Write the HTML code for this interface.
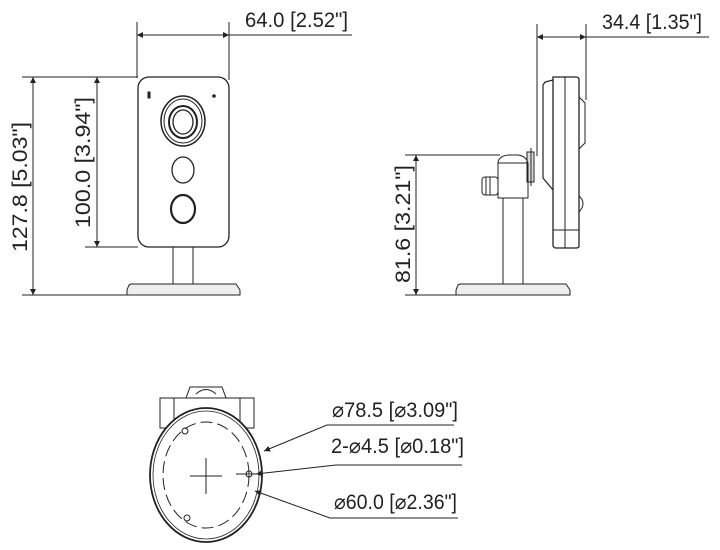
<!DOCTYPE html>
<html><head><meta charset="utf-8"><style>html,body{margin:0;padding:0;background:#fff}svg{display:block}text{font-family:"Liberation Sans",sans-serif;font-size:21px;fill:#222;stroke:none}</style></head><body>
<svg width="720" height="550" viewBox="0 0 720 550" xmlns="http://www.w3.org/2000/svg" fill="none" stroke="#222" stroke-width="1">
<defs>
<marker id="a" viewBox="0 0 10 10" refX="10" refY="5" markerWidth="9" markerHeight="6" orient="auto-start-reverse" markerUnits="userSpaceOnUse"><path d="M0,0L10,5L0,10z" fill="#222" stroke="none"/></marker>
</defs>
<line x1="137" y1="22" x2="137" y2="78"/><line x1="229" y1="22" x2="229" y2="80"/>
<line x1="137" y1="35" x2="229" y2="35" marker-start="url(#a)" marker-end="url(#a)"/>
<line x1="229" y1="35" x2="352" y2="35"/>
<text x="245" y="27" textLength="103" lengthAdjust="spacingAndGlyphs">64.0 [2.52"]</text>
<line x1="22" y1="77" x2="138" y2="77"/><line x1="22" y1="295" x2="240" y2="295"/>
<line x1="33" y1="77" x2="33" y2="295" marker-start="url(#a)" marker-end="url(#a)"/>
<line x1="85" y1="247" x2="138" y2="247"/>
<line x1="97" y1="77" x2="97" y2="247" marker-start="url(#a)" marker-end="url(#a)"/>
<text transform="translate(27,252) rotate(-90)" textLength="130" lengthAdjust="spacingAndGlyphs">127.8 [5.03"]</text>
<text transform="translate(90,228) rotate(-90)" textLength="131" lengthAdjust="spacingAndGlyphs">100.0 [3.94"]</text>
<rect x="138" y="77" width="91" height="170" rx="11" stroke-width="1.3"/>
<rect x="148" y="92" width="2" height="6" fill="#222"/><circle cx="214" cy="96" r="1.3" fill="#222"/>
<ellipse cx="183" cy="121" rx="22" ry="25" stroke-width="1.5"/>
<ellipse cx="183" cy="121" rx="19" ry="22"/>
<ellipse cx="183" cy="122" rx="14" ry="16" stroke-width="2"/>
<ellipse cx="183" cy="122" rx="10" ry="12" stroke-width="1.3"/>
<ellipse cx="183" cy="170" rx="11" ry="13" stroke-width="1.3"/>
<ellipse cx="183" cy="209" rx="12" ry="14" stroke-width="2.2"/>
<line x1="173" y1="247" x2="173" y2="284"/><line x1="193" y1="247" x2="193" y2="284"/>
<path d="M129,285 L131,284 L236,284 L240,290 L240,295 L127,295 L127,290 Z" fill="#eee"/>
<line x1="537" y1="24" x2="537" y2="156"/><line x1="586" y1="24" x2="586" y2="100"/>
<line x1="537" y1="37" x2="586" y2="37" marker-start="url(#a)" marker-end="url(#a)"/>
<line x1="586" y1="37" x2="709" y2="37"/>
<text x="602" y="29" textLength="100" lengthAdjust="spacingAndGlyphs">34.4 [1.35"]</text>
<line x1="405" y1="155" x2="500" y2="155"/><line x1="405" y1="295" x2="460" y2="295"/>
<line x1="416" y1="155" x2="416" y2="295" marker-start="url(#a)" marker-end="url(#a)"/>
<text transform="translate(410,283) rotate(-90)" textLength="118" lengthAdjust="spacingAndGlyphs">81.6 [3.21"]</text>
<path d="M553,77 L576,77 Q579,77 579,80 L579,246 Q579,248 576,248 L556,248 Q553,248 553,245 Z" stroke-width="1.3"/>
<line x1="565" y1="77" x2="565" y2="248"/>
<line x1="553" y1="230" x2="579" y2="230"/>
<path d="M553,80 L545,82 L543,85 L543,178 L553,190" stroke-width="1.2"/>
<path d="M579,97 L585,103 L585,143 L579,149"/>
<path d="M579,196 Q587,203 579,212"/>
<rect x="527" y="152" width="7" height="30" fill="#ddd"/>
<line x1="531" y1="148" x2="531" y2="186"/>
<path d="M498,198 L498,162 Q500,155 510,155 L518,155 Q526,156 528,163 L528,198 Z"/>
<line x1="498" y1="163" x2="528" y2="163"/>
<rect x="482" y="177" width="16" height="18" rx="3"/>
<line x1="486" y1="177" x2="486" y2="195"/><line x1="490" y1="177" x2="490" y2="195"/>
<line x1="503" y1="198" x2="503" y2="284"/><line x1="523" y1="198" x2="523" y2="284"/>
<path d="M458,285 L460,284 L566,284 L570,290 L570,295 L456,295 L456,290 Z" fill="#eee"/>
<path d="M186,398 L190,387 L222,387 L226,398"/>
<path d="M196,394 Q206,385 216,394"/>
<rect x="160" y="398" width="94" height="30"/>
<line x1="174" y1="398" x2="174" y2="428"/><line x1="240" y1="398" x2="240" y2="428"/>
<ellipse cx="206" cy="475" rx="56" ry="67" fill="#fff" stroke-width="1.8"/>
<ellipse cx="206" cy="475" rx="53" ry="64" stroke-width="0.8"/>
<ellipse cx="206" cy="475" rx="43" ry="53" stroke-dasharray="12,5"/>
<line x1="190" y1="476" x2="222" y2="476"/><line x1="206" y1="458" x2="206" y2="494"/>
<circle cx="185" cy="431" r="3"/><circle cx="187" cy="518" r="3"/><circle cx="249" cy="474" r="3"/>
<line x1="236" y1="474" x2="262" y2="474"/>
<polyline points="454,425 327,425 264,451" marker-end="url(#a)"/>
<polyline points="462,465 336,465 256,474" marker-end="url(#a)"/>
<polyline points="458,518 330,518 255,491" marker-end="url(#a)"/>
<text x="332" y="417" textLength="126" lengthAdjust="spacingAndGlyphs">⌀78.5 [⌀3.09"]</text>
<text x="331" y="453" textLength="133" lengthAdjust="spacingAndGlyphs">2-⌀4.5 [⌀0.18"]</text>
<text x="334" y="509" textLength="123" lengthAdjust="spacingAndGlyphs">⌀60.0 [⌀2.36"]</text>
</svg>
</body></html>
